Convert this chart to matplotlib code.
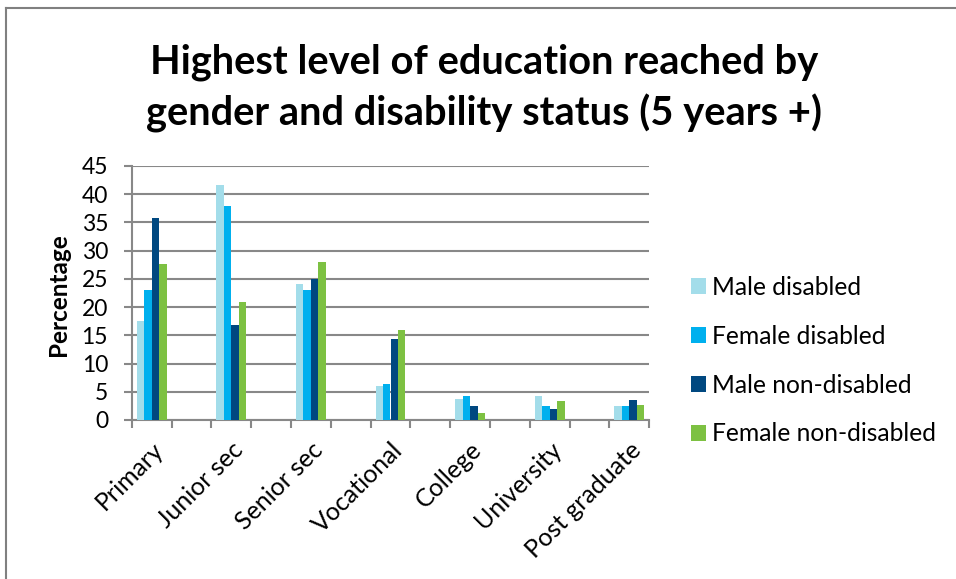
import matplotlib
matplotlib.use("Agg")
import matplotlib.pyplot as plt
import numpy as np
from matplotlib.lines import Line2D
from matplotlib.patches import Patch

levels = ["Primary", "Junior sec", "Senior sec", "Vocational",
          "College", "University", "Post graduate"]
series = ["Male disabled", "Female disabled",
          "Male non-disabled", "Female non-disabled"]
male_disabled = [17.6, 41.6, 24.1, 6.0, 3.8, 4.2, 2.5]
female_disabled = [23.1, 38.0, 23.1, 6.3, 4.2, 2.5, 2.5]
male_non_disabled = [35.8, 16.8, 24.9, 14.4, 2.5, 1.9, 3.5]
female_non_disabled = [27.7, 20.9, 28.0, 15.9, 1.2, 3.4, 2.7]
colors = ["#A3DDEA", "#00B0EE", "#004880", "#7DC142"]

FONT = "Lato"
W, H = 956, 579

fig = plt.figure(figsize=(W / 100, H / 100), dpi=100)
ax = fig.add_axes((131.7 / W, 1 - 420 / H, 517.6 / W, 254 / H))

# Excel puts a blank category between each real one
pos = np.arange(len(levels)) * 2
bw = 0.1875
values = [male_disabled, female_disabled, male_non_disabled, female_non_disabled]
for i, (vals, col) in enumerate(zip(values, colors)):
    ax.bar(pos + (i - 1.5) * bw, vals, width=bw, color=col, zorder=3)

ax.set_xlim(-0.5, 12.5)
ax.set_ylim(0, 45)
ax.set_yticks(np.arange(0, 46, 5))
ax.grid(axis="y", color="#888888", linewidth=1.5, zorder=0)
ax.set_xticks(np.arange(-0.5, 13, 1))
ax.set_xticklabels([])
ax.set_xticks(pos, minor=True)
ax.set_xticklabels(levels, minor=True, rotation=45, ha="right",
                   rotation_mode="anchor", fontsize=18, family=FONT)
ax.tick_params(axis="x", which="minor", length=0, pad=13)
ax.tick_params(axis="x", which="major", length=6, color="#888888", width=1.5)
ax.tick_params(axis="y", length=6, color="#888888", width=1.5, pad=11)
for lab in ax.get_yticklabels():
    lab.set_fontsize(16.5)
    lab.set_family(FONT)
for s in ["top", "right"]:
    ax.spines[s].set_visible(False)
for s in ["left", "bottom"]:
    ax.spines[s].set_color("#888888")
    ax.spines[s].set_linewidth(1.5)

fig.text(58 / W, 1 - 295 / H, "Percentage", rotation=90, ha="center",
         va="center", fontsize=17.5, fontweight="bold", family=FONT)

fig.text(484 / W, 1 - 88 / H,
         "Highest level of education reached by\ngender and disability status (5 years +)",
         ha="center", va="center", fontsize=28.7, fontweight="bold",
         family=FONT, linespacing=1.42)

handles = [Patch(facecolor=c, edgecolor="none") for c in colors]
fig.legend(handles, series, loc="upper left",
           bbox_to_anchor=(691 / W, 1 - 276 / H), frameon=False,
           prop={"family": FONT, "size": 17.7}, handlelength=0.62,
           handleheight=0.62, handletextpad=0.25, labelspacing=1.05,
           borderaxespad=0, borderpad=0)

# chart frame (only top and left edges are visible)
fig.add_artist(Line2D([6 / W, 1], [1 - 8 / H, 1 - 8 / H], color="#808080",
                      linewidth=1.5, transform=fig.transFigure))
fig.add_artist(Line2D([6 / W, 6 / W], [0, 1 - 8 / H], color="#808080",
                      linewidth=1.5, transform=fig.transFigure))

fig.savefig("out.png", dpi=100)
